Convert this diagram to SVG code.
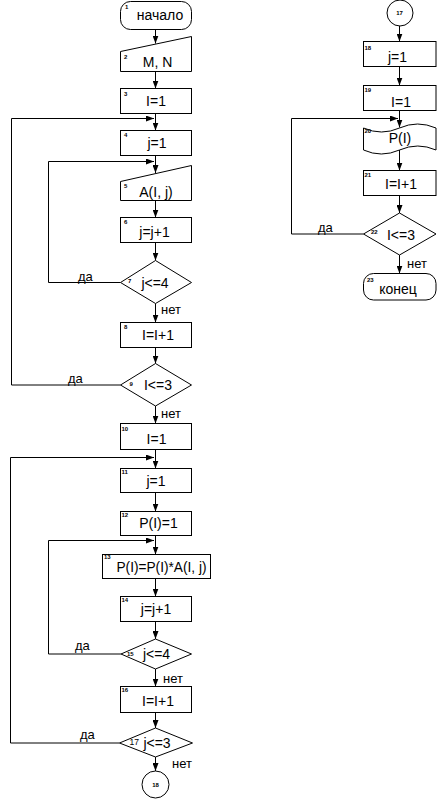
<svg xmlns="http://www.w3.org/2000/svg" width="437" height="799" viewBox="0 0 437 799">
<style>
.s{fill:#fff;stroke:#000;stroke-width:1}
.c{fill:none;stroke:#000;stroke-width:1}
.t{font-family:"Liberation Sans",Arial,sans-serif;font-size:14px;fill:#000;text-anchor:middle}
.n{font-family:"Liberation Sans",Arial,sans-serif;font-size:6px;font-weight:bold;fill:#000}
.l{font-family:"Liberation Sans",Arial,sans-serif;font-size:13px;fill:#000}
</style>
<defs>
<marker id="a" viewBox="0 0 8 6" markerWidth="8" markerHeight="6" refX="8" refY="3" orient="auto" markerUnits="userSpaceOnUse"><path d="M0,0 L8,3 L0,6 z" fill="#000"/></marker>
</defs>
<rect width="437" height="799" fill="#fff"/>
<g id="connectors">
<path class="c" marker-end="url(#a)" d="M155.5,29.5 V43.5"/>
<path class="c" marker-end="url(#a)" d="M155.5,71.5 V88.5"/>
<path class="c" marker-end="url(#a)" d="M155.5,113.5 V130.5"/>
<path class="c" marker-end="url(#a)" d="M120.5,385 H11.5 V118.5 H154"/>
<path class="c" marker-end="url(#a)" d="M155.5,155.5 V173"/>
<path class="c" marker-end="url(#a)" d="M120.5,282.5 H48.5 V161.5 H154"/>
<path class="c" marker-end="url(#a)" d="M155.5,200.5 V217.5"/>
<path class="c" marker-end="url(#a)" d="M155.5,242.5 V260.5"/>
<path class="c" marker-end="url(#a)" d="M155.5,303.5 V322.5"/>
<path class="c" marker-end="url(#a)" d="M155.5,347.5 V363.5"/>
<path class="c" marker-end="url(#a)" d="M155.5,406 V423.5"/>
<path class="c" marker-end="url(#a)" d="M155.5,449.5 V468.5"/>
<path class="c" marker-end="url(#a)" d="M119.5,743 H10.5 V457.5 H154"/>
<path class="c" marker-end="url(#a)" d="M155.5,492.5 V511.5"/>
<path class="c" marker-end="url(#a)" d="M155.5,535.5 V554.5"/>
<path class="c" marker-end="url(#a)" d="M121,654 H48.5 V540.5 H154"/>
<path class="c" marker-end="url(#a)" d="M155.5,578.5 V596.5"/>
<path class="c" marker-end="url(#a)" d="M155.5,621.5 V639"/>
<path class="c" marker-end="url(#a)" d="M155.5,669 V686.5"/>
<path class="c" marker-end="url(#a)" d="M155.5,712.5 V728"/>
<path class="c" marker-end="url(#a)" d="M155.5,757 V771"/>
<path class="c" marker-end="url(#a)" d="M399.5,26 V41.5"/>
<path class="c" marker-end="url(#a)" d="M399.5,66.5 V85.5"/>
<path class="c" marker-end="url(#a)" d="M399.5,110.5 V127.5"/>
<path class="c" marker-end="url(#a)" d="M363.5,234 H291.5 V118.5 H398"/>
<path class="c" marker-end="url(#a)" d="M399.5,150 V170.5"/>
<path class="c" marker-end="url(#a)" d="M399.5,195.5 V213"/>
<path class="c" marker-end="url(#a)" d="M399.5,255 V273.5"/>
<text class="l" x="161" y="313.5">нет</text>
<text class="l" x="161" y="418">нет</text>
<text class="l" x="163" y="683">нет</text>
<text class="l" x="172" y="768">нет</text>
<text class="l" x="407" y="268">нет</text>
<text class="l" x="78" y="280.5">да</text>
<text class="l" x="68" y="382.5">да</text>
<text class="l" x="75" y="649.5">да</text>
<text class="l" x="80" y="739">да</text>
<text class="l" x="318" y="231.5">да</text>
</g>
<g id="n1"><rect class="s" x="120.5" y="1.5" width="71" height="28" rx="10"/><text class="n" x="125" y="9">1</text><text class="t" x="160" y="20">начало</text></g>
<g id="n2"><polygon class="s" points="120.5,51.5 191.5,36.5 191.5,71.5 120.5,71.5"/><text class="n" x="124" y="59">2</text><text class="t" x="157.5" y="67">M, N</text></g>
<g id="n3"><rect class="s" x="120.5" y="88.5" width="71" height="25"/><text class="n" x="124" y="96">3</text><text class="t" x="156" y="106">I=1</text></g>
<g id="n4"><rect class="s" x="120.5" y="130.5" width="71" height="25"/><text class="n" x="124" y="137">4</text><text class="t" x="157" y="147.5">j=1</text></g>
<g id="n5"><polygon class="s" points="120.5,181.5 191.5,165.5 191.5,200.5 120.5,200.5"/><text class="n" x="124" y="188">5</text><text class="t" x="156" y="197">A(I, j)</text></g>
<g id="n6"><rect class="s" x="120.5" y="217.5" width="71" height="25"/><text class="n" x="124" y="224">6</text><text class="t" x="154.5" y="237">j=j+1</text></g>
<g id="n7"><polygon class="s" points="120.5,282.5 155.5,260.5 191.5,282.5 155.5,303.5"/><text class="n" x="128" y="283">7</text><text class="t" x="155" y="287.5">j&lt;=4</text></g>
<g id="n8"><rect class="s" x="120.5" y="322.5" width="71" height="25"/><text class="n" x="124" y="328.5">8</text><text class="t" x="158" y="339.5">I=I+1</text></g>
<g id="n9"><polygon class="s" points="120.5,385 155.5,363.5 191.5,385 155.5,406"/><text class="n" x="129.5" y="386">9</text><text class="t" x="158" y="390">I&lt;=3</text></g>
<g id="n10"><rect class="s" x="120.5" y="423.5" width="71" height="26"/><text class="n" x="121.5" y="431">10</text><text class="t" x="156.5" y="443.5">I=1</text></g>
<g id="n11"><rect class="s" x="120.5" y="468.5" width="71" height="24"/><text class="n" x="121.5" y="474">11</text><text class="t" x="156" y="486">j=1</text></g>
<g id="n12"><rect class="s" x="120.5" y="511.5" width="71" height="24"/><text class="n" x="121.5" y="517">12</text><text class="t" x="158.5" y="527.5">P(I)=1</text></g>
<g id="n13"><rect class="s" x="102.5" y="554.5" width="108" height="24"/><text class="n" x="104" y="559">13</text><text class="t" x="161.5" y="572" textLength="90" lengthAdjust="spacingAndGlyphs">P(I)=P(I)*A(I, j)</text></g>
<g id="n14"><rect class="s" x="120.5" y="596.5" width="71" height="25"/><text class="n" x="121.5" y="602">14</text><text class="t" x="156" y="614">j=j+1</text></g>
<g id="n15"><polygon class="s" points="121,654 155.5,639 191.5,654 155.5,669"/><text class="n" x="127" y="656">15</text><text class="t" x="156.5" y="659">j&lt;=4</text></g>
<g id="n16"><rect class="s" x="120.5" y="686.5" width="71" height="26"/><text class="n" x="121.5" y="692">16</text><text class="t" x="158" y="706">I=I+1</text></g>
<g id="n17"><polygon class="s" points="119.5,743 155.5,728 192.5,743 155.5,757"/><text class="l" x="129.5" y="745" style="font-size:8.5px">17</text><text class="t" x="157" y="748">j&lt;=3</text></g>
<g id="n18"><circle class="s" cx="155.5" cy="784.5" r="13.5"/><text class="n" x="155.5" y="786.5" text-anchor="middle">18</text></g>
<g id="c17"><circle class="s" cx="400" cy="13" r="13"/><text class="n" x="399.5" y="15" text-anchor="middle">17</text></g>
<g id="n18b"><rect class="s" x="363.5" y="41.5" width="72.5" height="25"/><text class="n" x="364.5" y="50">18</text><text class="t" x="397.5" y="61.5">j=1</text></g>
<g id="n19"><rect class="s" x="363.5" y="85.5" width="72.5" height="25"/><text class="n" x="364.5" y="92">19</text><text class="t" x="401" y="106.5">I=1</text></g>
<g id="n20"><path class="s" d="M363.5,128 Q381.5,136 399.5,128 T436,128 L436,150 Q417.75,142 399.5,150 T363.5,150 Z"/><text class="n" x="364.5" y="133">20</text><text class="t" x="400" y="143">P(I)</text></g>
<g id="n21"><rect class="s" x="363.5" y="170.5" width="72.5" height="25"/><text class="n" x="364.5" y="177">21</text><text class="t" x="401" y="188.5">I=I+1</text></g>
<g id="n22"><polygon class="s" points="363.5,234 399.5,213 436,234 399.5,255"/><text class="n" x="371" y="233.5">22</text><text class="t" x="401" y="240">I&lt;=3</text></g>
<g id="n23"><rect class="s" x="363.5" y="273.5" width="72.5" height="26.5" rx="10"/><text class="n" x="367" y="282">23</text><text class="t" x="398" y="294">конец</text></g>
</svg>
